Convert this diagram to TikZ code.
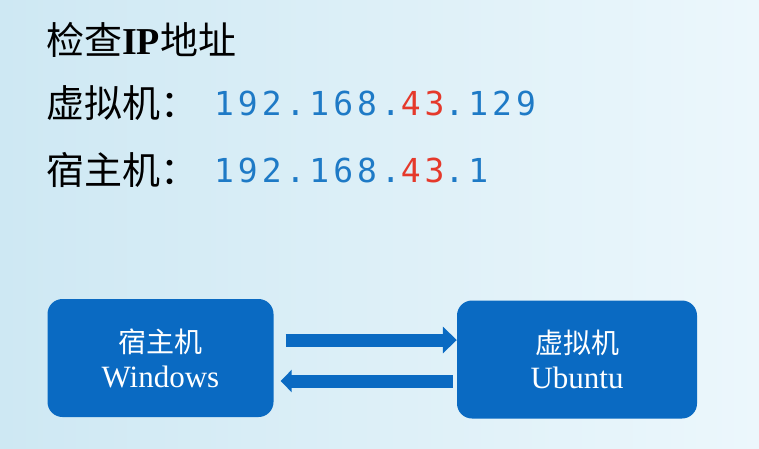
\documentclass[tikz,border=0pt]{standalone}
\usepackage{fontspec}
\setmainfont{Liberation Serif}
\newfontfamily\cjk{Noto Sans CJK SC}
\newfontfamily\ipfont[LetterSpace=12]{DejaVu Sans Mono}
\usetikzlibrary{arrows.meta, positioning}
\definecolor{boxblue}{HTML}{0A6AC2}
\definecolor{ipblue}{HTML}{1E7AC6}
\definecolor{ipred}{HTML}{E5392B}
\definecolor{bgleft}{HTML}{CEE8F3}
\definecolor{bgright}{HTML}{ECF7FC}

\begin{document}
\begin{tikzpicture}[% styles used in picture code
 x = 1pt, y = -1pt,
 > = {Triangle[length=14pt, width=26pt]}, % from "arrows.meta"
line/.style = {anchor=west, inner sep=0pt,
               font=\cjk\fontsize{38}{40}\selectfont},
ip/.style   = {anchor=west, inner sep=0pt, text=ipblue,
               font=\ipfont\fontsize{33}{35}\selectfont},
host/.style = {fill=boxblue, rounded corners=15pt,
               minimum width=#1, minimum height=118pt,
               text=white, align=center,
               font=\fontsize{31}{35}\selectfont},
link/.style = {->, boxblue, line width=13pt}
                    ]
	% background
	\shade[left color=bgleft, right color=bgright] (0,0) rectangle (759,448);
	\useasboundingbox (0,0) rectangle (759,448);

	% text lines
	\node[line] (title) at (46,40) {检查{\rmfamily\bfseries IP}地址};
	\node[line] (vmline) at (46,103) {虚拟机：};
	\node[line] (hostline) at (46,170) {宿主机：};
	\node[ip] (vmip) at (214,103) {192.168.\textcolor{ipred}{43}.129};
	\node[ip] (hostip) at (214,170) {192.168.\textcolor{ipred}{43}.1};

	% the two machines
	\node[host=226pt] (win) at (160.5,358) {{\cjk\fontsize{28}{35}\selectfont 宿主机}\\Windows};
	\node[host=240pt] (vm) at (577,359.5) {{\cjk\fontsize{28}{35}\selectfont 虚拟机}\\Ubuntu};

	\draw[link] ([xshift=12pt,yshift=18pt]win.east) -- ([yshift=18pt]vm.west |- win.east);
	\draw[link, -{Triangle[length=11pt, width=22pt]}] ([xshift=-4pt,yshift=-23pt]vm.west |- win.east) -- ([xshift=7pt,yshift=-23pt]win.east);
\end{tikzpicture}
\end{document}
